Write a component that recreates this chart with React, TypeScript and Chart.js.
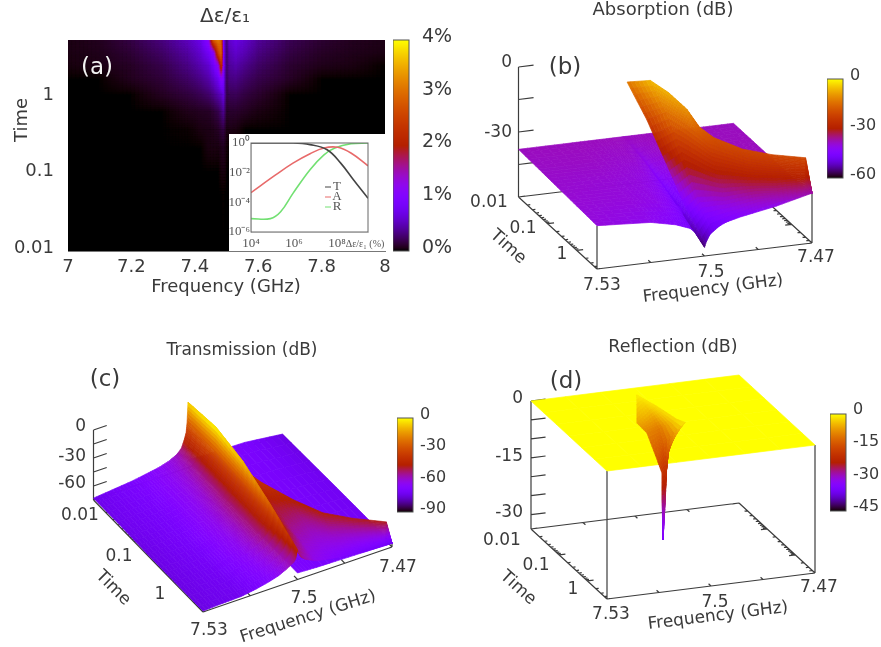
import React, { useEffect, useRef } from "react";
import { Chart, registerables } from "chart.js";

Chart.register(...registerables);

/* ---------- panel (a) heat map: Δε/ε1 in % ---------- */
const mapFreqs = [7.0, 7.1, 7.2, 7.3, 7.38, 7.42, 7.445, 7.46, 7.475, 7.485, 7.492, 7.497, 7.503, 7.51, 7.53, 7.56, 7.6, 7.7, 7.8, 7.9, 8.0];
const mapTimes = [5.2, 3.5, 2.4, 1.6, 1, 0.6, 0.35, 0.2, 0.1, 0.05, 0.01];
const mapValues = [
  [0.05, 0.08, 0.18, 0.34, 0.55, 0.75, 1.2, 2.9, 3.2, 2.9, 1.0, 0.5, 0.35, 0.6, 0.72, 0.6, 0.42, 0.22, 0.13, 0.08, 0.06],
  [0.05, 0.07, 0.14, 0.27, 0.45, 0.62, 0.85, 1.1, 2.6, 3.0, 1.1, 0.5, 0.3, 0.5, 0.6, 0.5, 0.35, 0.18, 0.1, 0.07, 0.05],
  [0.04, 0.06, 0.1, 0.2, 0.36, 0.5, 0.62, 0.85, 1.2, 2.4, 1.1, 0.5, 0.28, 0.42, 0.48, 0.38, 0.27, 0.13, 0.07, 0.05, 0],
  [0, 0, 0.08, 0.15, 0.27, 0.37, 0.47, 0.6, 0.8, 1.1, 1.0, 0.45, 0.24, 0.34, 0.36, 0.28, 0.2, 0.1, 0, 0, 0],
  [0, 0, 0, 0.09, 0.16, 0.22, 0.28, 0.36, 0.48, 0.55, 0.7, 0.4, 0.18, 0.22, 0.23, 0.17, 0.12, 0, 0, 0, 0],
  [0, 0, 0, 0, 0.07, 0.09, 0.1, 0.14, 0.2, 0.3, 0.4, 0.25, 0.1, 0.12, 0.12, 0.09, 0.05, 0, 0, 0, 0],
  [0, 0, 0, 0, 0.01, 0.05, 0.06, 0.07, 0.1, 0.15, 0.18, 0.12, 0.05, 0.06, 0.05, 0, 0, 0, 0, 0, 0],
  [0, 0, 0, 0, 0, 0, 0.05, 0.05, 0.05, 0.07, 0.09, 0.06, 0.03, 0, 0, 0, 0, 0, 0, 0, 0],
  [0, 0, 0, 0, 0, 0, 0, 0, 0, 0.04, 0.05, 0.04, 0, 0, 0, 0, 0, 0, 0, 0, 0],
  [0, 0, 0, 0, 0, 0, 0, 0, 0, 0, 0.01, 0, 0, 0, 0, 0, 0, 0, 0, 0, 0],
  [0, 0, 0, 0, 0, 0, 0, 0, 0, 0, 0, 0, 0, 0, 0, 0, 0, 0, 0, 0, 0],
];
const mapFreqTicks = [7, 7.2, 7.4, 7.6, 7.8, 8];
const mapTimeTicks = [0.01, 0.1, 1];

/* ---------- inset of panel (a) ---------- */
const insetTx = [1e4, 9e5, 5.6e6, 3.5e7, 1.5e8, 6e8, 2.8e9];
const insetT = [1, 1, 0.78, 0.35, 0.044, 0.0032, 1.9e-4];
const insetAx = [1e4, 1.4e5, 9e5, 5.6e6, 2.5e7, 1.1e8, 4.5e8, 2.8e9];
const insetA = [4.5e-4, 7e-3, 0.044, 0.19, 0.46, 0.51, 0.21, 0.029];
const insetRx = [1e4, 8e4, 2.4e5, 9e5, 5.6e6, 2.5e7, 8e7, 4.5e8, 2.8e9];
const insetR = [8e-6, 8e-6, 2.3e-5, 4e-4, 0.016, 0.16, 0.46, 0.89, 1];

/* ---------- panel (b) absorption (dB) ---------- */
const absPlaneFreqs = [7.53, 7.515, 7.508, 7.504, 7.501, 7.5, 7.499, 7.495, 7.49, 7.48, 7.47];
const absPlaneTimes = [0.01, 0.05, 0.22, 1, 5];
const absPlaneDb = [
  [-38, -38, -38, -38, -38, -38, -38, -38, -38, -38, -38],
  [-38.5, -38.5, -39, -39, -40, -41, -40, -39, -38.5, -38, -38],
  [-39, -39.5, -40, -41, -43, -45, -43, -41, -40, -39, -38],
  [-39.5, -40, -41, -43, -46, -50, -47, -44, -42, -40, -38],
  [-40, -41.5, -44, -46.5, -51, -56, -51, -46, -44, -41, -37],
];
const absWallFreqs = [7.4997, 7.4976, 7.4958, 7.494, 7.4922, 7.4898, 7.485, 7.479, 7.4718, 7.47];
const absWallTimes = [
  [0.01, 0.0473, 0.224, 1.06, 5],
  [0.0347, 0.12, 0.417, 1.45, 5],
  [0.088, 0.241, 0.664, 1.82, 5],
  [0.224, 0.487, 1.06, 2.3, 5],
  [0.367, 0.706, 1.355, 2.6, 5],
  [0.57, 0.98, 1.69, 2.91, 5],
  [1.45, 1.97, 2.66, 3.65, 5],
  [2.66, 3.1, 3.65, 4.27, 5],
  [5, 5, 5, 5, 5],
  [5, 5, 5, 5, 5],
];
const absWallDb = [
  [-13, -22, -34, -46, -54],
  [-6, -14, -26, -40, -48],
  [-7, -15, -27, -39, -47],
  [-10, -17, -28, -38, -45.6],
  [-16, -20, -29, -38, -44.5],
  [-19, -21, -29, -37, -43.6],
  [-20.3, -23, -29, -35, -41],
  [-20.8, -24, -29, -35, -39],
  [-20.3, -24, -28, -33, -37.2],
  [-37, -37, -37, -37, -37],
];

/* ---------- panel (c) transmission (dB) ---------- */
const transLeftFreqs = [7.53, 7.524, 7.518, 7.5132, 7.509, 7.506, 7.5036, 7.5021, 7.5012, 7.5006, 7.5003, 7.5];
const transLeftTimes = [0.01, 0.05, 0.22, 1, 5];
const transLeftDb = [
  [-73, -71, -69, -66.5, -64, -61, -57, -52, -44, -37, -27, -5],
  [-73, -71.5, -70, -66.5, -63, -59, -54, -49, -42, -35, -25, -1],
  [-74, -72, -70, -66, -62, -57, -52, -47, -40, -34, -28, -8],
  [-74, -72.5, -71, -67, -63, -58, -53, -48, -42, -38, -33, -24],
  [-74, -73, -72.5, -70, -67, -64, -60, -57, -55, -52, -48, -43],
];
const transBackFreqs = [7.5, 7.494, 7.482, 7.47];
const transBackTimes = [0.01, 0.22, 5];
const transBackDb = [
  [-67, -68, -69, -74],
  [-68, -69, -70, -72],
  [-68, -69, -70, -71],
];
const transWallFreqs = [7.5, 7.4988, 7.4976, 7.494, 7.4892, 7.485, 7.479, 7.4718, 7.47];
const transWallTimes = [
  [0.01, 0.0473, 0.224, 1.06, 5],
  [0.0114, 0.0536, 0.238, 1.09, 5],
  [0.0348, 0.12, 0.417, 1.44, 5],
  [0.224, 0.488, 1.06, 2.3, 5],
  [0.57, 0.98, 1.69, 2.91, 5],
  [1.44, 1.97, 2.66, 3.65, 5],
  [2.66, 3.1, 3.65, 4.27, 5],
  [5, 5, 5, 5, 5],
  [5, 5, 5, 5, 5],
];
const transWallDb = [
  [-5, -1, -8, -24, -43],
  [-32, -34, -36, -38, -52.5],
  [-36, -38, -40, -44, -56],
  [-38, -46, -52, -58, -62],
  [-44, -52, -57, -61, -65],
  [-45, -53, -58, -62, -67],
  [-46, -54, -59, -64, -70],
  [-46, -54, -60, -65, -71],
  [-71, -71, -71, -71, -71],
];

/* ---------- panel (d) reflection (dB) ---------- */
const reflPlaneFreqs = [7.53, 7.47];
const reflPlaneTimes = [0.01, 5];
const reflPlaneDb = [
  [0, 0],
  [0, 0],
];
const reflDipFreqs = [
  [7.5004, 7.5004, 7.5004],
  [7.5029, 7.4982, 7.4974],
  [7.5, 7.4944, 7.4959],
  [7.4996, 7.4944, 7.4957],
  [7.4978, 7.4951, 7.4964],
  [7.4979, 7.4963, 7.4954],
  [7.497, 7.4968, 7.4969],
  [7.4995, 7.4995, 7.4995],
];
const reflDipTimes = [
  [0.0131, 0.0131, 0.0131],
  [0.0265, 0.0204, 0.0284],
  [0.0264, 0.0157, 0.0967],
  [0.0549, 0.0219, 0.179],
  [0.0485, 0.0293, 0.0626],
  [0.0501, 0.038, 0.0366],
  [0.0406, 0.0406, 0.0488],
  [0.0859, 0.0859, 0.0859],
];
const reflDipDb = [
  [-1, -1, -1],
  [-6, -4, -2],
  [-9, -10, -2],
  [-14, -13, -1],
  [-18, -19, -9],
  [-25, -26, -17],
  [-31, -31, -26],
  [-33.8, -33.8, -33.8],
];

/* ---------- axis ticks shared by the 3-D panels ---------- */
const freqTickValues = [7.53, 7.515, 7.5, 7.485, 7.47];
const timeDecades = [0.01, 0.1, 1];
const timeMultiples = [1, 2, 3, 4, 5, 6, 7, 8, 9];
const freqLabels = ["7.53", "7.5", "7.47"];
const timeLabels = ["0.01", "0.1", "1"];

/* ---------- helpers ---------- */
const FONT = '"DejaVu Sans", sans-serif';
const SERIF = '"Liberation Serif", serif';
const INK = "#3a3a3a";
const F_HIGH = 7.53, F_LOW = 7.47, T_LOW = 0.01, T_HIGH = 5;

function palette(x: number) {
  const c = Math.min(1, Math.max(0, x));
  const r = Math.sqrt(c), g = c * c * c, b = Math.max(0, Math.sin(2 * Math.PI * c));
  return `rgb(${Math.round(r * 255)},${Math.round(g * 255)},${Math.round(b * 255)})`;
}

function gridPlugin(range: [number, number], fine: number, background?: string) {
  return {
    id: "gridFill",
    beforeDatasetsDraw(chart: any) {
      if (!background) return;
      const { ctx, chartArea: a } = chart;
      ctx.fillStyle = background;
      ctx.fillRect(a.left, a.top, a.right - a.left, a.bottom - a.top);
    },
    afterDatasetsDraw(chart: any) {
      const { ctx, chartArea: a } = chart;
      const groups = new Map<string, any[]>();
      chart.data.datasets.forEach((d: any, i: number) => {
        if (!d.patch) return;
        const row = chart.getDatasetMeta(i).data.map((el: any, j: number) => ({ x: el.x, y: el.y, v: d.data[j].v }));
        if (!groups.has(d.patch)) groups.set(d.patch, []);
        groups.get(d.patch)!.push(row);
      });
      ctx.save();
      if (background) {
        ctx.beginPath();
        ctx.rect(a.left, a.top, a.right - a.left, a.bottom - a.top);
        ctx.clip();
      }
      const at = (p: any, q: any, r: any, s: any, m: number, n: number) => {
        const w = (k: string) =>
          (1 - m) * (1 - n) * p[k] + m * (1 - n) * q[k] + (1 - m) * n * r[k] + m * n * s[k];
        return { x: w("x"), y: w("y"), v: w("v") };
      };
      ctx.lineWidth = 0.7;
      ctx.lineJoin = "round";
      groups.forEach((rows) => {
        for (let r = 0; r < rows.length - 1; r++) {
          for (let c = 0; c < rows[r].length - 1; c++) {
            const p = rows[r][c], q = rows[r][c + 1], u = rows[r + 1][c], s = rows[r + 1][c + 1];
            for (let i = 0; i < fine; i++) {
              for (let j = 0; j < fine; j++) {
                const A = at(p, q, u, s, i / fine, j / fine);
                const B = at(p, q, u, s, (i + 1) / fine, j / fine);
                const C = at(p, q, u, s, (i + 1) / fine, (j + 1) / fine);
                const D = at(p, q, u, s, i / fine, (j + 1) / fine);
                const col = palette(((A.v + B.v + C.v + D.v) / 4 - range[0]) / (range[1] - range[0]));
                ctx.fillStyle = col;
                ctx.strokeStyle = col;
                ctx.beginPath();
                ctx.moveTo(A.x, A.y);
                ctx.lineTo(B.x, B.y);
                ctx.lineTo(C.x, C.y);
                ctx.lineTo(D.x, D.y);
                ctx.closePath();
                ctx.fill();
                ctx.stroke();
              }
            }
          }
        }
      });
      ctx.restore();
    },
  };
}

type Label = { text: string; x: number; y: number; size: number; rot?: number; align?: string; color?: string; font?: string };

function textPlugin(labels: Label[], ox: number, oy: number) {
  return {
    id: "texts",
    afterDraw(chart: any) {
      const { ctx } = chart;
      labels.forEach((l) => {
        ctx.save();
        ctx.translate(l.x - ox, l.y - oy);
        if (l.rot) ctx.rotate((l.rot * Math.PI) / 180);
        ctx.font = `${l.size}px ${l.font || FONT}`;
        ctx.fillStyle = l.color || INK;
        ctx.textAlign = l.align || "center";
        ctx.textBaseline = "middle";
        ctx.fillText(l.text, 0, 0);
        ctx.restore();
      });
    },
  };
}

const quiet = { legend: { display: false }, tooltip: { enabled: false }, title: { display: false } };

/* ---------- 3-D panels ---------- */
type Panel = {
  box: [number, number, number, number];
  origin: [number, number];
  ex: [number, number];
  ey: [number, number];
  zHeight: number;
  zMin: number;
  zTicks: number[];
  range: [number, number];
  cornerDb: [number, number];
  patches: { id: string; rows: [number, number, number][][] }[];
  labels: Label[];
};

function project(p: Panel, f: number, t: number, z: number) {
  const u = (F_HIGH - f) / (F_HIGH - F_LOW);
  const v = (Math.log10(t) - Math.log10(T_LOW)) / (Math.log10(T_HIGH) - Math.log10(T_LOW));
  const w = (z - p.zMin) / (0 - p.zMin);
  return {
    x: p.origin[0] + p.ex[0] * u + p.ey[0] * v,
    y: p.origin[1] + p.ex[1] * u + p.ey[1] * v - p.zHeight * w,
  };
}

function axisPoints(p: Panel) {
  const pts: { x: number; y: number }[] = [];
  const gap = { x: NaN, y: NaN };
  const line = (a: number[], b: number[]) => {
    pts.push(project(p, a[0], a[1], a[2]), project(p, b[0], b[1], b[2]), gap);
  };
  const zb = p.zMin;
  line([F_HIGH, T_LOW, zb], [F_HIGH, T_HIGH, zb]);
  line([F_HIGH, T_HIGH, zb], [F_LOW, T_HIGH, zb]);
  line([F_LOW, T_HIGH, zb], [F_LOW, T_LOW, zb]);
  line([F_LOW, T_LOW, zb], [F_HIGH, T_LOW, zb]);
  line([F_HIGH, T_LOW, zb], [F_HIGH, T_LOW, 0]);
  line([F_HIGH, T_HIGH, zb], [F_HIGH, T_HIGH, p.cornerDb[0]]);
  line([F_LOW, T_HIGH, zb], [F_LOW, T_HIGH, p.cornerDb[1]]);
  const df = F_HIGH - F_LOW;
  p.zTicks.forEach((z) => line([F_HIGH, T_LOW, z], [F_HIGH - df * 0.07, T_LOW, z]));
  timeDecades.forEach((d) =>
    timeMultiples.forEach((m) => {
      const t = d * m;
      if (t > T_HIGH) return;
      const len = m === 1 ? 0.03 : 0.014;
      line([F_HIGH, t, zb], [F_HIGH - df * len, t, zb]);
      line([F_LOW, t, zb], [F_LOW + df * len, t, zb]);
    })
  );
  freqTickValues.forEach((f) => {
    line([f, T_HIGH, zb], [f, T_HIGH * 0.82, zb]);
    line([f, T_LOW, zb], [f, T_LOW / 0.82, zb]);
  });
  return pts;
}

function panelConfig(p: Panel) {
  const [ox, oy, w, h] = p.box;
  const datasets: any[] = [
    { data: axisPoints(p), showLine: true, borderColor: "#3c3c3c", borderWidth: 1.2, pointRadius: 0, clip: false },
  ];
  p.patches.forEach((patch) =>
    patch.rows.forEach((row) =>
      datasets.push({
        patch: patch.id,
        data: row.map(([f, t, z]) => ({ ...project(p, f, t, z), v: z })),
        showLine: false,
        pointRadius: 0,
      })
    )
  );
  return {
    type: "scatter",
    data: { datasets },
    options: {
      animation: false,
      responsive: false,
      events: [],
      layout: { padding: 0 },
      plugins: quiet,
      scales: {
        x: { type: "linear", display: false, min: ox, max: ox + w },
        y: { type: "linear", display: false, min: oy, max: oy + h, reverse: true },
      },
    },
    plugins: [gridPlugin(p.range, 6), textPlugin(p.labels, ox, oy)],
  };
}

const planeRows = (freqs: number[], times: number[], db: number[][]) =>
  times.map((t, r) => freqs.map((f, c) => [f, t, db[r][c]] as [number, number, number]));
const wallRows = (freqs: number[], times: number[][], db: number[][]) =>
  times[0].map((_, r) => freqs.map((f, c) => [f, times[c][r], db[c][r]] as [number, number, number]));
const freeRows = (freqs: number[][], times: number[][], db: number[][]) =>
  freqs.map((row, r) => row.map((f, c) => [f, times[r][c], db[r][c]] as [number, number, number]));

const tickLabelSize = 17;
const panelB: Panel = {
  box: [450, 0, 431, 320],
  origin: [518.5, 197],
  ex: [215, -26],
  ey: [78.5, 72],
  zHeight: 130,
  zMin: -60,
  zTicks: [0, -15, -30, -45],
  range: [-60, 0],
  cornerDb: [absPlaneDb[4][0], absPlaneDb[4][10]],
  patches: [
    { id: "plane", rows: planeRows(absPlaneFreqs, absPlaneTimes, absPlaneDb) },
    { id: "wall", rows: wallRows(absWallFreqs, absWallTimes, absWallDb) },
  ],
  labels: [
    { text: "Absorption (dB)", x: 663, y: 10, size: 18 },
    { text: "(b)", x: 565, y: 68, size: 23 },
    { text: "0", x: 512, y: 63, size: tickLabelSize, align: "right" },
    { text: "-30", x: 512, y: 133, size: tickLabelSize, align: "right" },
    { text: timeLabels[0], x: 489, y: 203, size: tickLabelSize },
    { text: timeLabels[1], x: 523, y: 229, size: tickLabelSize },
    { text: timeLabels[2], x: 562, y: 255, size: tickLabelSize },
    { text: "Time", x: 508, y: 247, size: tickLabelSize, rot: 42 },
    { text: freqLabels[0], x: 602, y: 286, size: tickLabelSize },
    { text: freqLabels[1], x: 711, y: 273, size: tickLabelSize },
    { text: freqLabels[2], x: 816, y: 258, size: tickLabelSize },
    { text: "Frequency (GHz)", x: 713, y: 289, size: tickLabelSize, rot: -7 },
  ],
};
const panelC: Panel = {
  box: [0, 330, 450, 317],
  origin: [93.5, 500],
  ex: [189, -65],
  ey: [109.5, 112],
  zHeight: 70,
  zMin: -75,
  zTicks: [0, -15, -30, -45, -60],
  range: [-90, 0],
  cornerDb: [transLeftDb[4][0], transBackDb[2][3]],
  patches: [
    { id: "back", rows: planeRows(transBackFreqs, transBackTimes, transBackDb) },
    { id: "wall", rows: wallRows(transWallFreqs, transWallTimes, transWallDb) },
    { id: "left", rows: planeRows(transLeftFreqs, transLeftTimes, transLeftDb) },
  ],
  labels: [
    { text: "Transmission (dB)", x: 242, y: 351, size: 17 },
    { text: "(c)", x: 105, y: 380, size: 23 },
    { text: "0", x: 86, y: 427, size: tickLabelSize, align: "right" },
    { text: "-30", x: 86, y: 457, size: tickLabelSize, align: "right" },
    { text: "-60", x: 86, y: 484, size: tickLabelSize, align: "right" },
    { text: timeLabels[0], x: 80, y: 516, size: tickLabelSize },
    { text: timeLabels[1], x: 119, y: 557, size: tickLabelSize },
    { text: timeLabels[2], x: 160, y: 595, size: tickLabelSize },
    { text: "Time", x: 113, y: 588, size: tickLabelSize, rot: 45 },
    { text: freqLabels[0], x: 209, y: 631, size: tickLabelSize },
    { text: freqLabels[1], x: 304, y: 599, size: tickLabelSize },
    { text: freqLabels[2], x: 398, y: 568, size: tickLabelSize },
    { text: "Frequency (GHz)", x: 308, y: 617, size: tickLabelSize, rot: -17.6 },
  ],
};
const panelD: Panel = {
  box: [450, 330, 431, 317],
  origin: [531, 529],
  ex: [208, -26],
  ey: [76, 70],
  zHeight: 128,
  zMin: -33.8,
  zTicks: [0, -5, -10, -15, -20, -25, -30],
  range: [-45, 0],
  cornerDb: [0, 0],
  patches: [
    { id: "plane", rows: planeRows(reflPlaneFreqs, reflPlaneTimes, reflPlaneDb) },
    { id: "dip", rows: freeRows(reflDipFreqs, reflDipTimes, reflDipDb) },
  ],
  labels: [
    { text: "Reflection (dB)", x: 673, y: 347, size: 17.5 },
    { text: "(d)", x: 566, y: 382, size: 23 },
    { text: "0", x: 523, y: 399, size: tickLabelSize, align: "right" },
    { text: "-15", x: 523, y: 457, size: tickLabelSize, align: "right" },
    { text: "-30", x: 523, y: 513, size: tickLabelSize, align: "right" },
    { text: timeLabels[0], x: 502, y: 541, size: tickLabelSize },
    { text: timeLabels[1], x: 536, y: 566, size: tickLabelSize },
    { text: timeLabels[2], x: 573, y: 590, size: tickLabelSize },
    { text: "Time", x: 518, y: 588, size: tickLabelSize, rot: 42 },
    { text: freqLabels[0], x: 611, y: 615, size: tickLabelSize },
    { text: freqLabels[1], x: 715, y: 603, size: tickLabelSize },
    { text: freqLabels[2], x: 819, y: 588, size: tickLabelSize },
    { text: "Frequency (GHz)", x: 718, y: 616, size: tickLabelSize, rot: -7 },
  ],
};

/* ---------- panel (a) charts ---------- */
function heatmapConfig(w: number, h: number) {
  const datasets = mapTimes.map((t, r) => ({
    patch: "map",
    data: mapFreqs.map((f, c) => ({ x: f, y: t, v: mapValues[r][c] })),
    showLine: false,
    pointRadius: 0,
  }));
  const labels: Label[] = [
    { text: "Δε/ε₁", x: 225, y: 17, size: 20 },
    { text: "(a)", x: 97, y: 68, size: 23, color: "#f2f2f2" },
    { text: "Time", x: 22, y: 120, size: 18, rot: -90 },
    { text: "Frequency (GHz)", x: 226, y: 287, size: 18 },
  ];
  return {
    type: "scatter",
    data: { datasets },
    options: {
      animation: false,
      responsive: false,
      events: [],
      layout: { padding: { top: 40, right: w - 385, left: 0, bottom: 0 } },
      plugins: quiet,
      scales: {
        x: {
          type: "linear",
          min: 7,
          max: 8,
          afterBuildTicks: (s: any) => {
            s.ticks = mapFreqTicks.map((value) => ({ value }));
          },
          afterFit: (s: any) => {
            s.height = h - 251;
          },
          grid: { display: false, drawTicks: false },
          border: { color: "#777" },
          ticks: { color: INK, font: { family: FONT, size: 18 }, padding: 6, maxRotation: 0, autoSkip: false, callback: (v: number) => String(v) },
        },
        y: {
          type: "logarithmic",
          min: 0.0092,
          max: 5.2,
          afterBuildTicks: (s: any) => {
            s.ticks = mapTimeTicks.map((value) => ({ value }));
          },
          afterFit: (s: any) => {
            s.width = 68;
          },
          grid: { display: false, drawTicks: false },
          border: { color: "#777" },
          ticks: { color: INK, font: { family: FONT, size: 18 }, padding: 14, autoSkip: false, callback: (v: number) => String(v) },
        },
      },
    },
    plugins: [gridPlugin([0, 4], 8, "#000"), textPlugin(labels, 0, 0)],
  };
}

function insetConfig(ox: number, oy: number, w: number, h: number) {
  const series = (xs: number[], ys: number[], color: string) => ({
    data: xs.map((x, i) => ({ x, y: ys[i] })),
    showLine: true,
    borderColor: color,
    borderWidth: 1.6,
    pointRadius: 0,
    tension: 0.4,
  });
  const legendRows = [
    { text: "T", color: "#444", y: 187 },
    { text: "A", color: "#e86a6a", y: 197 },
    { text: "R", color: "#72e072", y: 207 },
  ];
  const labels: Label[] = legendRows.map((r) => ({ text: r.text, x: 337, y: r.y, size: 13, font: SERIF, color: "#555" }));
  labels.push({ text: "Δε/ε₁ (%)", x: 365, y: 244, size: 10, font: SERIF, color: "#555" });
  const frame = {
    id: "frame",
    afterDraw(chart: any) {
      const { ctx, chartArea: a } = chart;
      ctx.save();
      ctx.strokeStyle = "#666";
      ctx.lineWidth = 1;
      ctx.strokeRect(a.left, a.top, a.right - a.left, a.bottom - a.top);
      legendRows.forEach((r) => {
        ctx.strokeStyle = r.color;
        ctx.beginPath();
        ctx.moveTo(325 - ox, r.y - oy);
        ctx.lineTo(331 - ox, r.y - oy);
        ctx.stroke();
      });
      ctx.restore();
    },
  };
  const xNames = new Map([[1e4, "10⁴"], [1e6, "10⁶"], [1e8, "10⁸"]]);
  const yNames = new Map([[1, "10⁰"], [0.01, "10⁻²"], [0.0001, "10⁻⁴"], [0.000001, "10⁻⁶"]]);
  return {
    type: "scatter",
    data: {
      datasets: [series(insetTx, insetT, "#444"), series(insetAx, insetA, "#e86a6a"), series(insetRx, insetR, "#72e072")],
    },
    options: {
      animation: false,
      responsive: false,
      events: [],
      layout: { padding: { top: 9, right: w - 139, left: 0, bottom: 0 } },
      plugins: quiet,
      scales: {
        x: {
          type: "logarithmic",
          min: 1e4,
          max: 2.8e9,
          afterBuildTicks: (s: any) => {
            s.ticks = [...xNames.keys()].map((value) => ({ value }));
          },
          afterFit: (s: any) => {
            s.height = 19;
          },
          grid: { display: false, drawTicks: false },
          ticks: { color: "#555", font: { family: SERIF, size: 13 }, padding: 4, maxRotation: 0, autoSkip: false, callback: (v: number) => xNames.get(v) || "" },
        },
        y: {
          type: "logarithmic",
          min: 1e-6,
          max: 1,
          afterBuildTicks: (s: any) => {
            s.ticks = [...yNames.keys()].map((value) => ({ value }));
          },
          afterFit: (s: any) => {
            s.width = 22;
          },
          grid: { display: false, drawTicks: false },
          ticks: { color: "#555", font: { family: SERIF, size: 13 }, padding: 1, autoSkip: false, callback: (v: number) => yNames.get(v) || "" },
        },
      },
    },
    plugins: [
      {
        id: "paper",
        beforeDraw(chart: any) {
          chart.ctx.fillStyle = "#fff";
          chart.ctx.fillRect(0, 0, chart.width, chart.height);
        },
      },
      frame,
      textPlugin(labels, ox, oy),
    ],
  };
}

/* ---------- colour bars ---------- */
type Bar = { left: number; right: number; top: number; bottom: number; min: number; max: number; step: number; suffix: string; shift: number; size: number; pad: number; width: number };
const BAR_MARGIN = 30;

function colorBarConfig(b: Bar) {
  return {
    type: "scatter",
    data: { datasets: [{ data: [] }] },
    options: {
      animation: false,
      responsive: false,
      events: [],
      layout: { padding: { top: BAR_MARGIN + b.shift, bottom: BAR_MARGIN - b.shift, left: 0, right: 0 } },
      plugins: quiet,
      scales: {
        x: { type: "linear", display: false, min: 0, max: 1 },
        y: {
          type: "linear",
          position: "right",
          min: b.min,
          max: b.max,
          afterFit: (s: any) => {
            s.width = b.width;
          },
          grid: { display: false, drawTicks: false },
          border: { display: false },
          ticks: { stepSize: b.step, color: INK, font: { family: FONT, size: b.size }, padding: b.pad, callback: (v: number) => `${v}${b.suffix}` },
        },
      },
    },
    plugins: [
      {
        id: "bar",
        afterDraw(chart: any) {
          const { ctx, chartArea: a, scales } = chart;
          const y0 = scales.y.getPixelForValue(b.max) - b.shift;
          const y1 = scales.y.getPixelForValue(b.min) - b.shift;
          const g = ctx.createLinearGradient(0, y1, 0, y0);
          for (let i = 0; i <= 64; i++) g.addColorStop(i / 64, palette(i / 64));
          ctx.save();
          ctx.fillStyle = g;
          ctx.fillRect(a.left, y0, a.right - a.left, y1 - y0);
          ctx.strokeStyle = "#555";
          ctx.lineWidth = 1;
          ctx.strokeRect(a.left, y0, a.right - a.left, y1 - y0);
          ctx.restore();
        },
      },
    ],
  };
}

const barA: Bar = { left: 393, right: 409, top: 40, bottom: 251, min: 0, max: 4, step: 1, suffix: "%", shift: -3, size: 19, pad: 13, width: 48 };
const barB: Bar = { left: 827, right: 843, top: 79, bottom: 178, min: -60, max: 0, step: 30, suffix: "", shift: -3, size: 16, pad: 7, width: 38 };
const barC: Bar = { left: 397, right: 413, top: 418, bottom: 512, min: -90, max: 0, step: 30, suffix: "", shift: -3, size: 16, pad: 7, width: 38 };
const barD: Bar = { left: 830, right: 846, top: 414, bottom: 511, min: -45, max: 0, step: 15, suffix: "", shift: -4, size: 16, pad: 7, width: 38 };

function ChartBox({ make, left, top, width, height }: { make: () => any; left: number; top: number; width: number; height: number }) {
  const ref = useRef<HTMLCanvasElement>(null);
  useEffect(() => {
    const chart = new Chart(ref.current as any, make());
    return () => chart.destroy();
  }, []);
  return <canvas ref={ref} width={width} height={height} style={{ position: "absolute", left, top, width, height, display: "block" }} />;
}

function BarBox({ bar }: { bar: Bar }) {
  const w = bar.right - bar.left + bar.width;
  const h = bar.bottom - bar.top + 2 * BAR_MARGIN;
  return <ChartBox make={() => colorBarConfig(bar)} left={bar.left} top={bar.top - BAR_MARGIN} width={w} height={h} />;
}

export default function App() {
  return (
    <div style={{ position: "absolute", left: 0, top: 0, width: 881, height: 647, background: "#fff", overflow: "hidden", filter: "blur(0.5px)" }}>
      <ChartBox make={() => heatmapConfig(420, 310)} left={0} top={0} width={420} height={310} />
      <ChartBox make={() => insetConfig(229, 134, 156, 117)} left={229} top={134} width={156} height={117} />
      <BarBox bar={barA} />
      {[panelB, panelC, panelD].map((p, i) => (
        <ChartBox key={i} make={() => panelConfig(p)} left={p.box[0]} top={p.box[1]} width={p.box[2]} height={p.box[3]} />
      ))}
      <BarBox bar={barB} />
      <BarBox bar={barC} />
      <BarBox bar={barD} />
    </div>
  );
}
